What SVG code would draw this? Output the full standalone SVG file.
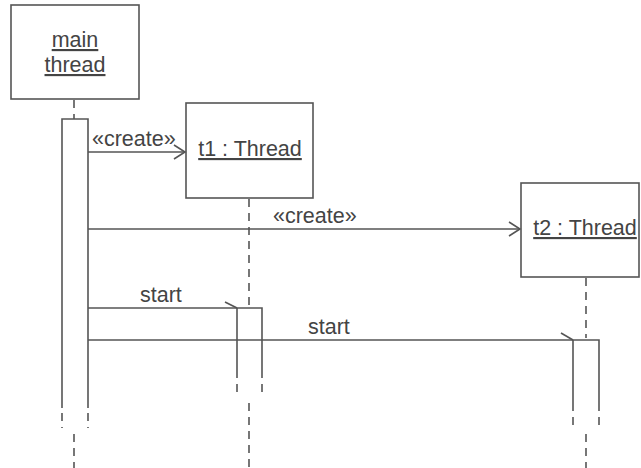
<svg xmlns="http://www.w3.org/2000/svg" width="641" height="468" viewBox="0 0 641 468">
<style>
.box{fill:#fff;stroke:#555;stroke-width:1.6}
.ln{fill:none;stroke:#555;stroke-width:1.6}
.dash{fill:none;stroke:#555;stroke-width:1.6;stroke-dasharray:8 6}
.t{font-family:"Liberation Sans",Arial,sans-serif;font-size:21.5px;fill:#444}
.u{text-decoration:underline}
</style>
<rect width="641" height="468" fill="#fff"/>
<g id="main">
<rect class="box" x="11" y="5" width="128" height="94"/>
<text class="t u" x="75" y="47" text-anchor="middle">main</text>
<text class="t u" x="75" y="72" text-anchor="middle">thread</text>
<line class="dash" x1="74" y1="100" x2="74" y2="119"/>
<path class="ln" d="M62,408 V119 H88 V408"/>
<line class="dash" x1="62" y1="413" x2="62" y2="428"/>
<line class="dash" x1="88" y1="413" x2="88" y2="428"/>
<line class="dash" x1="74" y1="434" x2="74" y2="468"/>
</g>
<g id="t1">
<rect class="box" x="186" y="103" width="127" height="95"/>
<text class="t u" x="250" y="156" text-anchor="middle">t1 : Thread</text>
<line class="dash" x1="249" y1="199" x2="249" y2="306"/>
<path class="ln" d="M237,378 V308 H262 V378"/>
<line class="dash" x1="237" y1="384" x2="237" y2="397"/>
<line class="dash" x1="262" y1="384" x2="262" y2="397"/>
<line class="dash" x1="249" y1="403" x2="249" y2="468"/>
</g>
<g id="t2">
<rect class="box" x="521" y="183" width="118" height="94"/>
<text class="t u" x="585" y="235" text-anchor="middle">t2 : Thread</text>
<line class="dash" x1="586" y1="278" x2="586" y2="338"/>
<path class="ln" d="M573,411 V340 H599 V411"/>
<line class="dash" x1="573" y1="417" x2="573" y2="430"/>
<line class="dash" x1="599" y1="417" x2="599" y2="430"/>
<line class="dash" x1="586" y1="434" x2="586" y2="468"/>
</g>
<g id="connectors">
<line class="ln" x1="88" y1="152" x2="185" y2="152"/>
<polyline class="ln" points="174,145 185,152 174,159"/>
<text class="t" x="92" y="146">«create»</text>
<line class="ln" x1="88" y1="229" x2="520" y2="229"/>
<polyline class="ln" points="509,222 520,229 509,236"/>
<text class="t" x="273" y="223">«create»</text>
<line class="ln" x1="88" y1="308" x2="237" y2="308"/>
<polyline class="ln" points="225,302 237,308"/>
<text class="t" x="140" y="302">start</text>
<line class="ln" x1="88" y1="340" x2="573" y2="340"/>
<polyline class="ln" points="561,333 573,340"/>
<text class="t" x="308" y="334">start</text>
</g>
</svg>
